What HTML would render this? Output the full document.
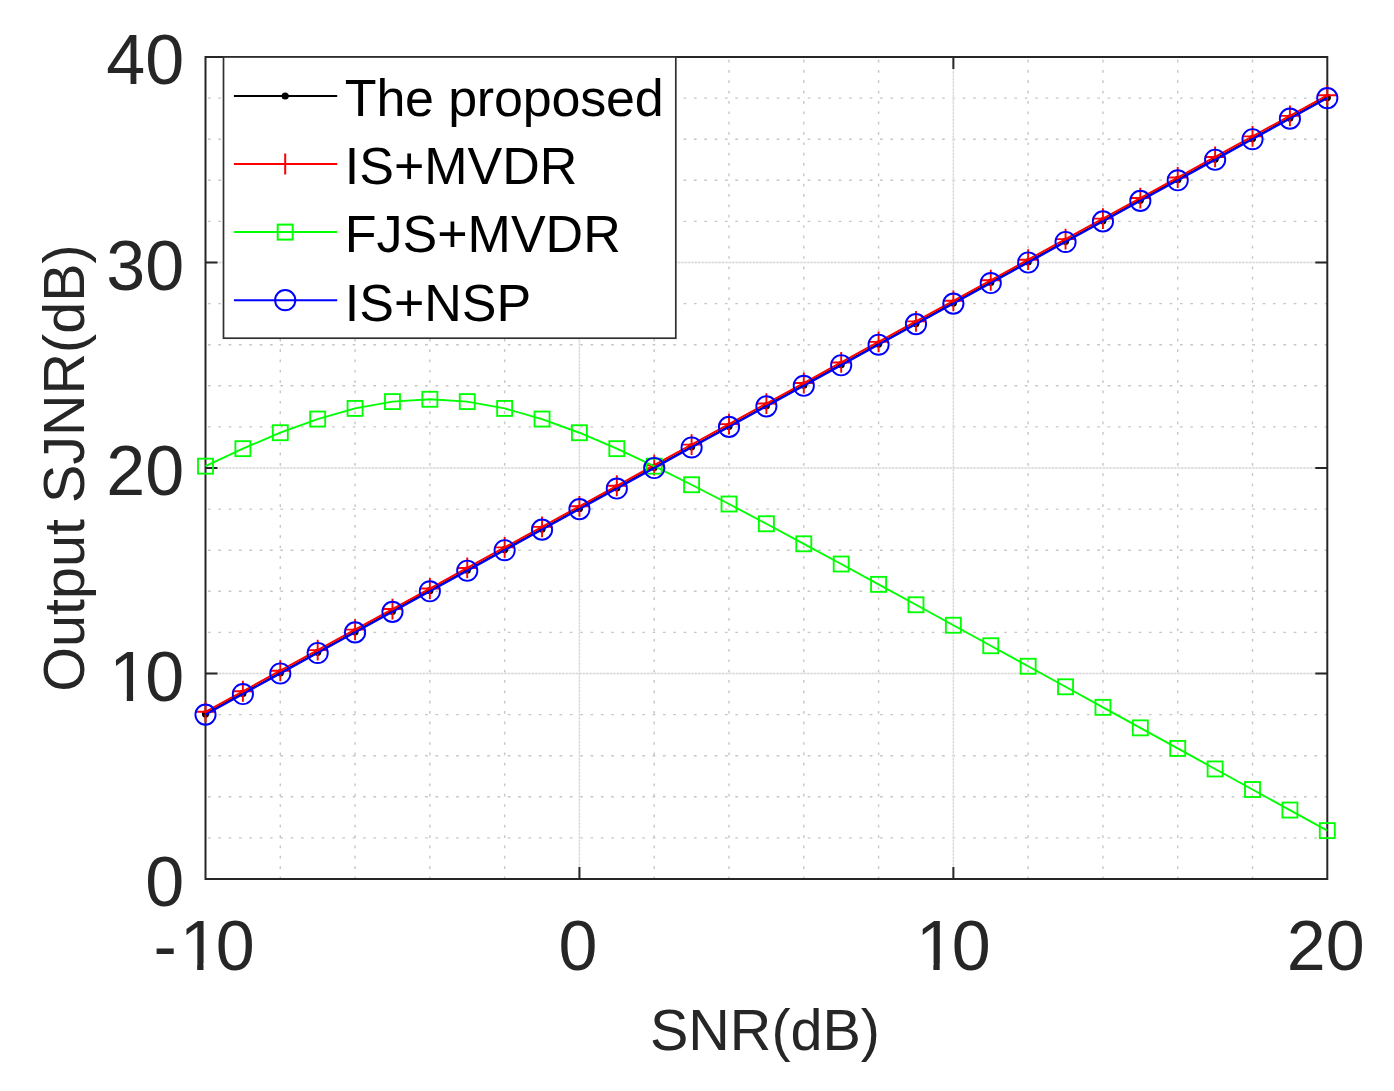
<!DOCTYPE html>
<html><head><meta charset="utf-8"><title>Output SJNR vs SNR</title>
<style>html,body{margin:0;padding:0;background:#fff}svg{display:block}text{font-family:"Liberation Sans",sans-serif}</style></head>
<body>
<svg width="1394" height="1091" viewBox="0 0 1394 1091">
<rect width="1394" height="1091" fill="#fff"/>
<g stroke="#c6c6c6" stroke-width="1.4" stroke-dasharray="2.7 7.64" fill="none"><line x1="207.95" y1="837.90" x2="1327.30" y2="837.90"/><line x1="207.95" y1="796.80" x2="1327.30" y2="796.80"/><line x1="207.95" y1="755.70" x2="1327.30" y2="755.70"/><line x1="207.95" y1="714.60" x2="1327.30" y2="714.60"/><line x1="207.95" y1="632.40" x2="1327.30" y2="632.40"/><line x1="207.95" y1="591.30" x2="1327.30" y2="591.30"/><line x1="207.95" y1="550.20" x2="1327.30" y2="550.20"/><line x1="207.95" y1="509.10" x2="1327.30" y2="509.10"/><line x1="207.95" y1="426.90" x2="1327.30" y2="426.90"/><line x1="207.95" y1="385.80" x2="1327.30" y2="385.80"/><line x1="207.95" y1="344.70" x2="1327.30" y2="344.70"/><line x1="207.95" y1="303.60" x2="1327.30" y2="303.60"/><line x1="207.95" y1="221.40" x2="1327.30" y2="221.40"/><line x1="207.95" y1="180.30" x2="1327.30" y2="180.30"/><line x1="207.95" y1="139.20" x2="1327.30" y2="139.20"/><line x1="207.95" y1="98.10" x2="1327.30" y2="98.10"/><line x1="280.29" y1="879.25" x2="280.29" y2="57.00"/><line x1="355.07" y1="879.25" x2="355.07" y2="57.00"/><line x1="429.86" y1="879.25" x2="429.86" y2="57.00"/><line x1="504.65" y1="879.25" x2="504.65" y2="57.00"/><line x1="654.22" y1="879.25" x2="654.22" y2="57.00"/><line x1="729.01" y1="879.25" x2="729.01" y2="57.00"/><line x1="803.79" y1="879.25" x2="803.79" y2="57.00"/><line x1="878.58" y1="879.25" x2="878.58" y2="57.00"/><line x1="1028.15" y1="879.25" x2="1028.15" y2="57.00"/><line x1="1102.94" y1="879.25" x2="1102.94" y2="57.00"/><line x1="1177.73" y1="879.25" x2="1177.73" y2="57.00"/><line x1="1252.51" y1="879.25" x2="1252.51" y2="57.00"/></g>
<g stroke="#ececec" stroke-width="1.6" fill="none"><line x1="205.50" y1="673.50" x2="1327.30" y2="673.50"/><line x1="205.50" y1="468.00" x2="1327.30" y2="468.00"/><line x1="205.50" y1="262.50" x2="1327.30" y2="262.50"/><line x1="579.43" y1="879.00" x2="579.43" y2="57.00"/><line x1="953.37" y1="879.00" x2="953.37" y2="57.00"/></g>
<g stroke="#d8d8d8" stroke-width="1.3" stroke-dasharray="1.7 1.7" fill="none"><line x1="205.50" y1="673.50" x2="1327.30" y2="673.50"/><line x1="205.50" y1="468.00" x2="1327.30" y2="468.00"/><line x1="205.50" y1="262.50" x2="1327.30" y2="262.50"/><line x1="579.43" y1="879.00" x2="579.43" y2="57.00"/><line x1="953.37" y1="879.00" x2="953.37" y2="57.00"/></g>
<g stroke="#262626" stroke-width="2" fill="none" stroke-linejoin="miter"><rect x="205.5" y="57.0" width="1121.80" height="822.00"/><line x1="205.5" y1="673.50" x2="217.5" y2="673.50"/><line x1="1327.3" y1="673.50" x2="1315.3" y2="673.50"/><line x1="205.5" y1="468.00" x2="217.5" y2="468.00"/><line x1="1327.3" y1="468.00" x2="1315.3" y2="468.00"/><line x1="205.5" y1="262.50" x2="217.5" y2="262.50"/><line x1="1327.3" y1="262.50" x2="1315.3" y2="262.50"/><line x1="579.43" y1="879.0" x2="579.43" y2="867.0"/><line x1="579.43" y1="57.0" x2="579.43" y2="69.0"/><line x1="953.37" y1="879.0" x2="953.37" y2="867.0"/><line x1="953.37" y1="57.0" x2="953.37" y2="69.0"/></g>
<polyline points="205.50,713.98 242.89,693.43 280.29,672.88 317.68,652.33 355.07,631.78 392.47,611.23 429.86,590.68 467.25,570.13 504.65,549.58 542.04,529.03 579.43,508.48 616.83,487.93 654.22,467.38 691.61,446.83 729.01,426.28 766.40,405.73 803.79,385.18 841.19,364.63 878.58,344.08 915.97,323.53 953.37,302.98 990.76,282.43 1028.15,261.88 1065.55,241.33 1102.94,220.78 1140.33,200.23 1177.73,179.68 1215.12,159.13 1252.51,138.58 1289.91,118.03 1327.30,97.48" fill="none" stroke="#000" stroke-width="2"/>
<g fill="#000"><circle cx="205.50" cy="713.98" r="3.6"/><circle cx="242.89" cy="693.43" r="3.6"/><circle cx="280.29" cy="672.88" r="3.6"/><circle cx="317.68" cy="652.33" r="3.6"/><circle cx="355.07" cy="631.78" r="3.6"/><circle cx="392.47" cy="611.23" r="3.6"/><circle cx="429.86" cy="590.68" r="3.6"/><circle cx="467.25" cy="570.13" r="3.6"/><circle cx="504.65" cy="549.58" r="3.6"/><circle cx="542.04" cy="529.03" r="3.6"/><circle cx="579.43" cy="508.48" r="3.6"/><circle cx="616.83" cy="487.93" r="3.6"/><circle cx="654.22" cy="467.38" r="3.6"/><circle cx="691.61" cy="446.83" r="3.6"/><circle cx="729.01" cy="426.28" r="3.6"/><circle cx="766.40" cy="405.73" r="3.6"/><circle cx="803.79" cy="385.18" r="3.6"/><circle cx="841.19" cy="364.63" r="3.6"/><circle cx="878.58" cy="344.08" r="3.6"/><circle cx="915.97" cy="323.53" r="3.6"/><circle cx="953.37" cy="302.98" r="3.6"/><circle cx="990.76" cy="282.43" r="3.6"/><circle cx="1028.15" cy="261.88" r="3.6"/><circle cx="1065.55" cy="241.33" r="3.6"/><circle cx="1102.94" cy="220.78" r="3.6"/><circle cx="1140.33" cy="200.23" r="3.6"/><circle cx="1177.73" cy="179.68" r="3.6"/><circle cx="1215.12" cy="159.13" r="3.6"/><circle cx="1252.51" cy="138.58" r="3.6"/><circle cx="1289.91" cy="118.03" r="3.6"/><circle cx="1327.30" cy="97.48" r="3.6"/></g>
<polyline points="205.50,711.81 242.89,691.26 280.29,670.71 317.68,650.16 355.07,629.61 392.47,609.06 429.86,588.51 467.25,567.96 504.65,547.41 542.04,526.86 579.43,506.31 616.83,485.76 654.22,465.21 691.61,444.66 729.01,424.11 766.40,403.56 803.79,383.01 841.19,362.46 878.58,341.91 915.97,321.36 953.37,300.81 990.76,280.26 1028.15,259.71 1065.55,239.16 1102.94,218.61 1140.33,198.06 1177.73,177.51 1215.12,156.96 1252.51,136.41 1289.91,115.86 1327.30,95.31" fill="none" stroke="#f00" stroke-width="2"/>
<g stroke="#f00" stroke-width="1.9" fill="none"><path d="M195.10 711.81h20.8M205.50 701.41v20.8"/><path d="M232.49 691.26h20.8M242.89 680.86v20.8"/><path d="M269.89 670.71h20.8M280.29 660.31v20.8"/><path d="M307.28 650.16h20.8M317.68 639.76v20.8"/><path d="M344.67 629.61h20.8M355.07 619.21v20.8"/><path d="M382.07 609.06h20.8M392.47 598.66v20.8"/><path d="M419.46 588.51h20.8M429.86 578.11v20.8"/><path d="M456.85 567.96h20.8M467.25 557.56v20.8"/><path d="M494.25 547.41h20.8M504.65 537.01v20.8"/><path d="M531.64 526.86h20.8M542.04 516.46v20.8"/><path d="M569.03 506.31h20.8M579.43 495.91v20.8"/><path d="M606.43 485.76h20.8M616.83 475.36v20.8"/><path d="M643.82 465.21h20.8M654.22 454.81v20.8"/><path d="M681.21 444.66h20.8M691.61 434.26v20.8"/><path d="M718.61 424.11h20.8M729.01 413.71v20.8"/><path d="M756.00 403.56h20.8M766.40 393.16v20.8"/><path d="M793.39 383.01h20.8M803.79 372.61v20.8"/><path d="M830.79 362.46h20.8M841.19 352.06v20.8"/><path d="M868.18 341.91h20.8M878.58 331.51v20.8"/><path d="M905.57 321.36h20.8M915.97 310.96v20.8"/><path d="M942.97 300.81h20.8M953.37 290.41v20.8"/><path d="M980.36 280.26h20.8M990.76 269.86v20.8"/><path d="M1017.75 259.71h20.8M1028.15 249.31v20.8"/><path d="M1055.15 239.16h20.8M1065.55 228.76v20.8"/><path d="M1092.54 218.61h20.8M1102.94 208.21v20.8"/><path d="M1129.93 198.06h20.8M1140.33 187.66v20.8"/><path d="M1167.33 177.51h20.8M1177.73 167.11v20.8"/><path d="M1204.72 156.96h20.8M1215.12 146.56v20.8"/><path d="M1242.11 136.41h20.8M1252.51 126.01v20.8"/><path d="M1279.51 115.86h20.8M1289.91 105.46v20.8"/><path d="M1316.90 95.31h20.8M1327.30 84.91v20.8"/></g>
<polyline points="205.50,466.16 242.89,448.66 280.29,432.73 317.68,419.05 355.07,408.41 392.47,401.61 429.86,399.27 467.25,401.61 504.65,408.42 542.04,419.06 579.43,432.74 616.83,448.66 654.22,466.17 691.61,484.74 729.01,504.02 766.40,523.76 803.79,543.80 841.19,564.02 878.58,584.36 915.97,604.78 953.37,625.25 990.76,645.75 1028.15,666.27 1065.55,686.79 1102.94,707.33 1140.33,727.87 1177.73,748.42 1215.12,768.96 1252.51,789.51 1289.91,810.06 1327.30,830.61" fill="none" stroke="#0f0" stroke-width="1.9"/>
<g stroke="#0f0" stroke-width="1.85" fill="none"><rect x="198.00" y="458.66" width="15.0" height="15.0"/><rect x="235.39" y="441.16" width="15.0" height="15.0"/><rect x="272.79" y="425.23" width="15.0" height="15.0"/><rect x="310.18" y="411.55" width="15.0" height="15.0"/><rect x="347.57" y="400.91" width="15.0" height="15.0"/><rect x="384.97" y="394.11" width="15.0" height="15.0"/><rect x="422.36" y="391.77" width="15.0" height="15.0"/><rect x="459.75" y="394.11" width="15.0" height="15.0"/><rect x="497.15" y="400.92" width="15.0" height="15.0"/><rect x="534.54" y="411.56" width="15.0" height="15.0"/><rect x="571.93" y="425.24" width="15.0" height="15.0"/><rect x="609.33" y="441.16" width="15.0" height="15.0"/><rect x="646.72" y="458.67" width="15.0" height="15.0"/><rect x="684.11" y="477.24" width="15.0" height="15.0"/><rect x="721.51" y="496.52" width="15.0" height="15.0"/><rect x="758.90" y="516.26" width="15.0" height="15.0"/><rect x="796.29" y="536.30" width="15.0" height="15.0"/><rect x="833.69" y="556.52" width="15.0" height="15.0"/><rect x="871.08" y="576.86" width="15.0" height="15.0"/><rect x="908.47" y="597.28" width="15.0" height="15.0"/><rect x="945.87" y="617.75" width="15.0" height="15.0"/><rect x="983.26" y="638.25" width="15.0" height="15.0"/><rect x="1020.65" y="658.77" width="15.0" height="15.0"/><rect x="1058.05" y="679.29" width="15.0" height="15.0"/><rect x="1095.44" y="699.83" width="15.0" height="15.0"/><rect x="1132.83" y="720.37" width="15.0" height="15.0"/><rect x="1170.23" y="740.92" width="15.0" height="15.0"/><rect x="1207.62" y="761.46" width="15.0" height="15.0"/><rect x="1245.01" y="782.01" width="15.0" height="15.0"/><rect x="1282.41" y="802.56" width="15.0" height="15.0"/><rect x="1319.80" y="823.11" width="15.0" height="15.0"/></g>
<polyline points="205.50,714.60 242.89,694.05 280.29,673.50 317.68,652.95 355.07,632.40 392.47,611.85 429.86,591.30 467.25,570.75 504.65,550.20 542.04,529.65 579.43,509.10 616.83,488.55 654.22,468.00 691.61,447.45 729.01,426.90 766.40,406.35 803.79,385.80 841.19,365.25 878.58,344.70 915.97,324.15 953.37,303.60 990.76,283.05 1028.15,262.50 1065.55,241.95 1102.94,221.40 1140.33,200.85 1177.73,180.30 1215.12,159.75 1252.51,139.20 1289.91,118.65 1327.30,98.10" fill="none" stroke="#00f" stroke-width="2"/>
<g stroke="#00f" stroke-width="1.9" fill="none"><circle cx="205.50" cy="714.60" r="10.1"/><circle cx="242.89" cy="694.05" r="10.1"/><circle cx="280.29" cy="673.50" r="10.1"/><circle cx="317.68" cy="652.95" r="10.1"/><circle cx="355.07" cy="632.40" r="10.1"/><circle cx="392.47" cy="611.85" r="10.1"/><circle cx="429.86" cy="591.30" r="10.1"/><circle cx="467.25" cy="570.75" r="10.1"/><circle cx="504.65" cy="550.20" r="10.1"/><circle cx="542.04" cy="529.65" r="10.1"/><circle cx="579.43" cy="509.10" r="10.1"/><circle cx="616.83" cy="488.55" r="10.1"/><circle cx="654.22" cy="468.00" r="10.1"/><circle cx="691.61" cy="447.45" r="10.1"/><circle cx="729.01" cy="426.90" r="10.1"/><circle cx="766.40" cy="406.35" r="10.1"/><circle cx="803.79" cy="385.80" r="10.1"/><circle cx="841.19" cy="365.25" r="10.1"/><circle cx="878.58" cy="344.70" r="10.1"/><circle cx="915.97" cy="324.15" r="10.1"/><circle cx="953.37" cy="303.60" r="10.1"/><circle cx="990.76" cy="283.05" r="10.1"/><circle cx="1028.15" cy="262.50" r="10.1"/><circle cx="1065.55" cy="241.95" r="10.1"/><circle cx="1102.94" cy="221.40" r="10.1"/><circle cx="1140.33" cy="200.85" r="10.1"/><circle cx="1177.73" cy="180.30" r="10.1"/><circle cx="1215.12" cy="159.75" r="10.1"/><circle cx="1252.51" cy="139.20" r="10.1"/><circle cx="1289.91" cy="118.65" r="10.1"/><circle cx="1327.30" cy="98.10" r="10.1"/></g>
<defs><clipPath id="c1"><rect x="101.34" y="630.80" width="87.86" height="63.40"/><rect x="126.79" y="693.70" width="6.3" height="9"/><rect x="146.47" y="693.70" width="42.93" height="12"/></clipPath><clipPath id="c5"><rect x="148.41" y="900.00" width="111.17" height="63.40"/><rect x="197.17" y="962.90" width="6.3" height="9"/><rect x="216.86" y="962.90" width="42.93" height="12"/></clipPath><clipPath id="c7"><rect x="907.94" y="900.00" width="87.86" height="63.40"/><rect x="933.39" y="962.90" width="6.3" height="9"/><rect x="953.07" y="962.90" width="42.93" height="12"/></clipPath></defs>
<g font-size="70" fill="#262626"><text x="184.20" y="906.30" text-anchor="end">0</text><text x="109.34 145.27" y="700.80" clip-path="url(#c1)">10</text><text x="184.20" y="495.30" text-anchor="end">20</text><text x="184.20" y="289.80" text-anchor="end">30</text><text x="184.20" y="84.30" text-anchor="end">40</text><text x="153.41 179.72 215.66" y="970.00" clip-path="url(#c5)">-10</text><text x="577.93" y="970.00" text-anchor="middle">0</text><text x="915.94 951.87" y="970.00" clip-path="url(#c7)">10</text><text x="1325.80" y="970.00" text-anchor="middle">20</text></g>
<text x="765" y="1050.1" font-size="57.5" fill="#262626" text-anchor="middle">SNR(dB)</text>
<text transform="translate(83.8 468) rotate(-90)" font-size="57.5" fill="#262626" text-anchor="middle">Output SJNR(dB)</text>
<rect x="223.5" y="57.0" width="452.30" height="281.20" fill="#fff" stroke="#303030" stroke-width="1.7"/>
<line x1="233.9" y1="96.0" x2="337.2" y2="96.0" stroke="#000" stroke-width="2"/>
<circle cx="285.2" cy="96.0" r="3.6" fill="#000"/>
<text x="344.8" y="116.3" font-size="52" fill="#000" letter-spacing="-0.18">The proposed</text>
<line x1="233.9" y1="164.0" x2="337.2" y2="164.0" stroke="#f00" stroke-width="2"/>
<path d="M274.8 164.0h20.8M285.2 153.6v20.8" stroke="#f00" stroke-width="2" fill="none"/>
<text x="344.8" y="184.3" font-size="52" fill="#000">IS+MVDR</text>
<line x1="233.9" y1="232.1" x2="337.2" y2="232.1" stroke="#0f0" stroke-width="2"/>
<rect x="277.7" y="224.6" width="15.0" height="15.0" stroke="#0f0" stroke-width="2" fill="none"/>
<text x="344.8" y="252.4" font-size="52" fill="#000">FJS+MVDR</text>
<line x1="233.9" y1="300.2" x2="337.2" y2="300.2" stroke="#00f" stroke-width="2"/>
<circle cx="285.2" cy="300.2" r="10.1" stroke="#00f" stroke-width="2" fill="none"/>
<text x="344.8" y="320.5" font-size="52" fill="#000">IS+NSP</text>
</svg></body></html>
